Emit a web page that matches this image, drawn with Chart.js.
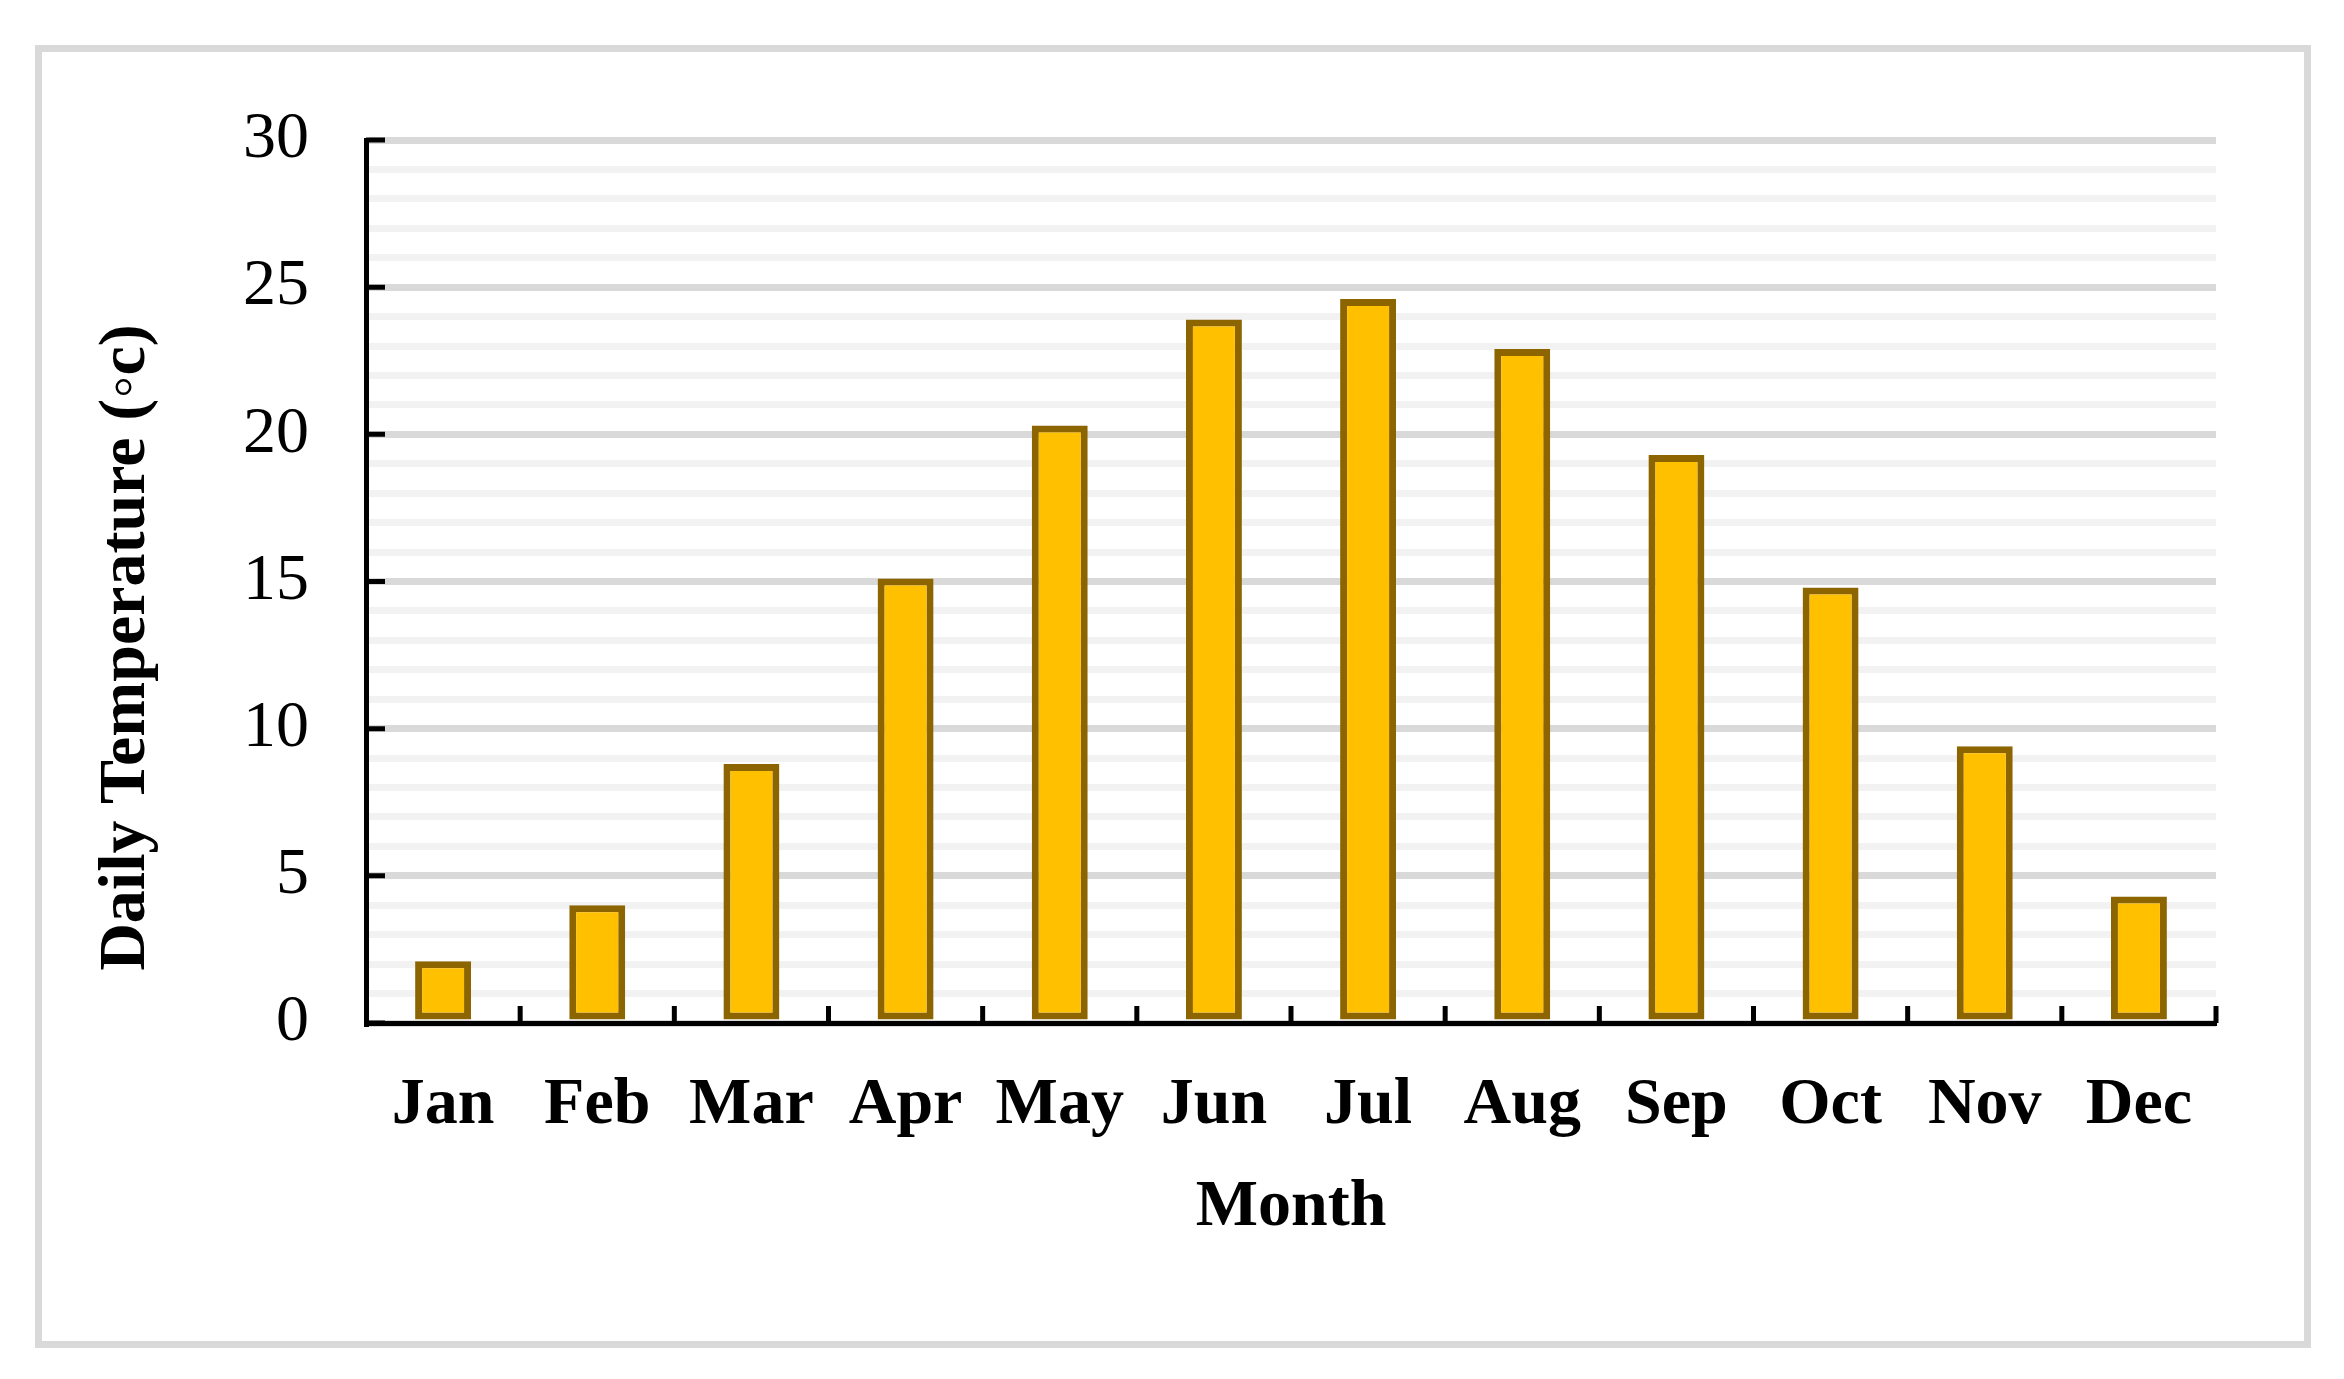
<!DOCTYPE html>
<html>
<head>
<meta charset="utf-8">
<script src="https://cdn.jsdelivr.net/npm/chart.js@4/dist/chart.umd.min.js"></script>
<style>
	html, body { margin: 0; padding: 0; background: #fff; }
	#frame {
		position: absolute; left: 35px; top: 45px;
		width: 2276px; height: 1303px;
		box-sizing: border-box; border: 7px solid #d9d9d9;
	}
	#chart { position: absolute; left: 0; top: 0; }
</style>
</head>
<body>
<div id="frame"></div>
<canvas id="chart" width="2344" height="1379"></canvas>
<script>
// Monthly mean daily temperature
const months = ['Jan', 'Feb', 'Mar', 'Apr', 'May', 'Jun', 'Jul', 'Aug', 'Sep', 'Oct', 'Nov', 'Dec'];
const temperature = [2.1, 4.0, 8.8, 15.1, 20.3, 23.9, 24.6, 22.9, 19.3, 14.8, 9.4, 4.3];
const yTickLabels = [0, 5, 10, 15, 20, 25, 30];

const serif = "'Liberation Serif', 'Times New Roman', serif";

// Short inward tick marks like the original (y: majors, x: between categories)
const innerTicks = {
	id: 'innerTicks',
	afterDraw(chart) {
		const {ctx, chartArea, scales} = chart;
		ctx.save();
		ctx.strokeStyle = '#000';
		ctx.lineWidth = 5;
		ctx.beginPath();
		yTickLabels.forEach(v => {
			const y = scales.y.getPixelForValue(v);
			ctx.moveTo(chartArea.left, y);
			ctx.lineTo(chartArea.left + 19, y);
		});
		for (let i = 1; i <= months.length; i++) {
			const x = scales.x.getPixelForValue(i - 0.5);
			ctx.moveTo(x, chartArea.bottom);
			ctx.lineTo(x, chartArea.bottom - 17);
		}
		ctx.stroke();
		ctx.restore();
	}
};

new Chart(document.getElementById('chart'), {
	type: 'bar',
	data: {
		labels: months,
		datasets: [{
			data: temperature,
			backgroundColor: '#ffc000',
			borderColor: '#8c6400',
			borderWidth: 7,
			borderSkipped: false,
			barPercentage: 0.363,
			categoryPercentage: 1.0,
		}]
	},
	options: {
		responsive: false,
		animation: false,
		layout: {
			padding: {left: 0, top: 140, right: 128, bottom: 92}
		},
		plugins: {
			legend: {display: false},
			tooltip: {enabled: false},
		},
		scales: {
			x: {
				afterFit(scale) { scale.height = 264; },
				grid: {display: false, drawTicks: false},
				border: {display: true, color: '#000', width: 5, z: 1},
				ticks: {
					color: '#000',
					padding: 43,
					font: {family: serif, size: 66, weight: 'bold'},
				},
				title: {
					display: true,
					text: 'Month',
					color: '#000',
					padding: {top: 0, bottom: 39},
					font: {family: serif, size: 66, weight: 'bold'},
				},
			},
			y: {
				min: 0,
				max: 30,
				afterFit(scale) { scale.width = 366; },
				grid: {
					drawTicks: false,
					lineWidth: 7,
					color: ctx => (ctx.tick && ctx.tick.value % 5 === 0) ? '#d9d9d9' : '#f2f2f2',
				},
				border: {display: true, color: '#000', width: 5, z: 1},
				ticks: {
					stepSize: 1,
					autoSkip: false,
					color: '#000',
					padding: 57,
					font: {family: serif, size: 66},
					callback: v => yTickLabels.includes(v) ? v : '',
				},
				title: {
					display: true,
					// trailing spaces push the visible text down, as in the original layout
					text: 'Daily Temperature (\u25e6c)' + '\u00a0'.repeat(8),
					color: '#000',
					padding: {top: 87, bottom: 0},
					font: {family: serif, size: 66, weight: 'bold'},
				},
			},
		},
	},
	plugins: [innerTicks],
});
</script>
</body>
</html>
